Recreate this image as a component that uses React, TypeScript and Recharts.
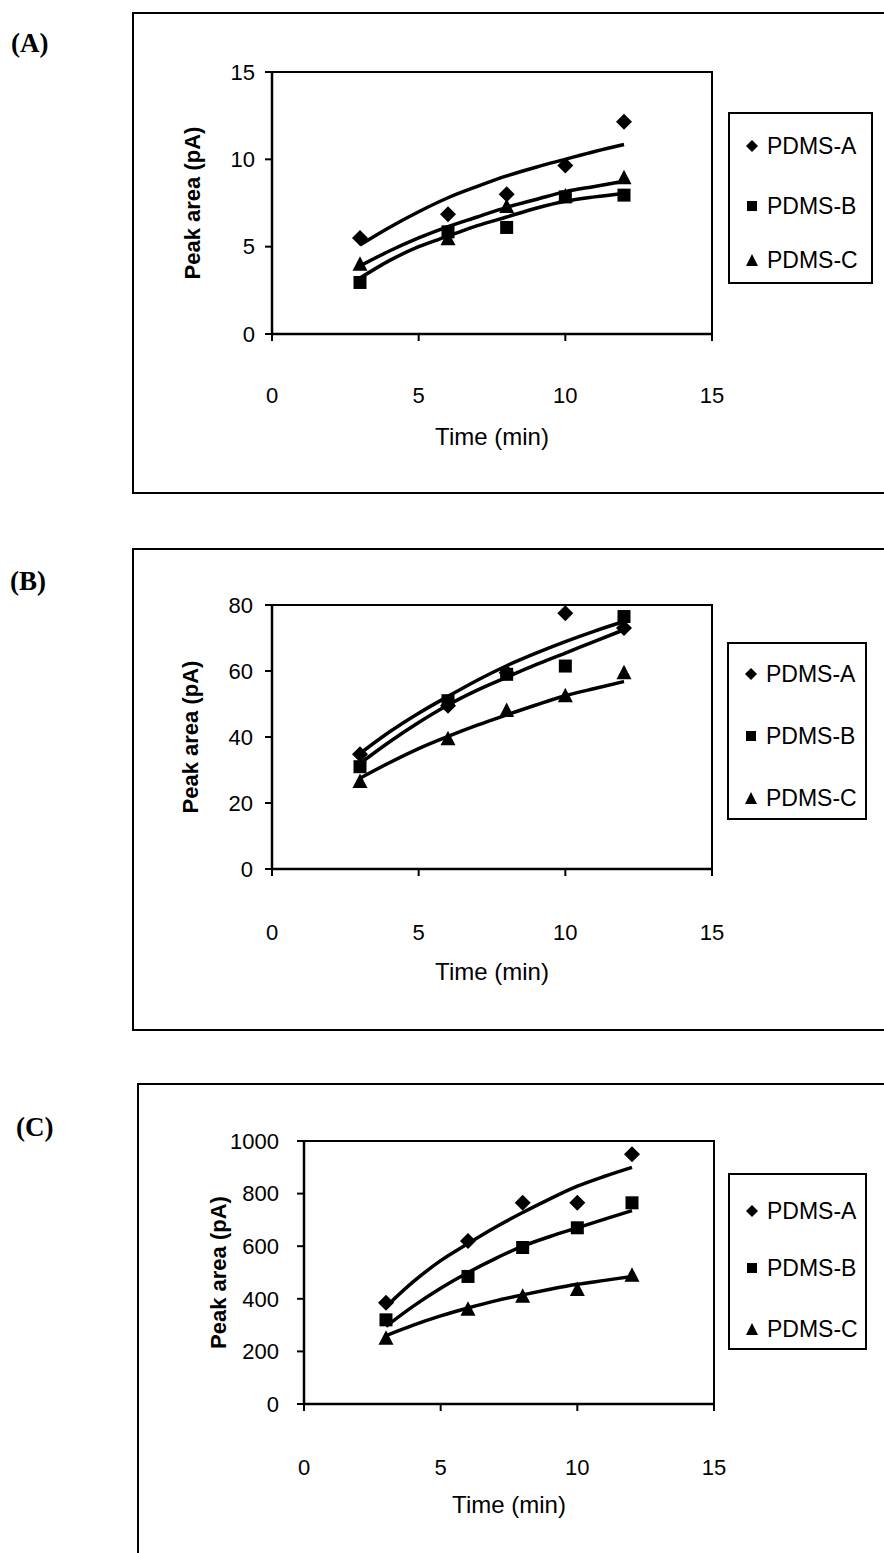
import React from 'react'
import { ComposedChart, Scatter, Line, XAxis, YAxis, ReferenceArea } from 'recharts'

const SANS = '"Liberation Sans", Arial, sans-serif'
const SERIF = '"Liberation Serif", "Times New Roman", serif'

const seriesNames = ['PDMS-A', 'PDMS-B', 'PDMS-C']
const sampleTimes = [3, 6, 8, 10, 12]
const fitTimes = [3, 4, 5, 6, 7, 8, 9, 10, 11, 12]
const xTicks = [0, 5, 10, 15]

// panel (A)
const aTicks = [0, 5, 10, 15]
const aPointsA = [5.5, 6.85, 8.0, 9.65, 12.15]
const aPointsB = [2.95, 5.85, 6.1, 7.85, 7.95]
const aPointsC = [4.0, 5.45, 7.3, 7.9, 8.95]
const aFitA = [5.1, 6.1, 7.0, 7.8, 8.45, 9.05, 9.55, 10.0, 10.45, 10.85]
const aFitB = [3.2, 4.2, 5.0, 5.6, 6.2, 6.7, 7.2, 7.6, 7.85, 8.05]
const aFitC = [3.9, 4.75, 5.5, 6.15, 6.7, 7.25, 7.7, 8.15, 8.45, 8.75]

// panel (B)
const bTicks = [0, 20, 40, 60, 80]
const bPointsA = [34.8, 49.5, 59.5, 77.5, 73]
const bPointsB = [31, 51, 59, 61.5, 76.5]
const bPointsC = [26.5, 39.5, 48, 52.5, 59.5]
const bFitA = [35, 41.5, 47.2, 52.3, 57.2, 61.6, 65.4, 68.9, 72.1, 75]
const bFitB = [32, 38.5, 44.4, 49.7, 54.2, 58.1, 61.9, 65.4, 69, 72.5]
const bFitC = [27.5, 32.2, 36.5, 40.2, 43.6, 46.7, 49.7, 52.5, 54.7, 56.8]

// panel (C)
const cTicks = [0, 200, 400, 600, 800, 1000]
const cPointsA = [385, 620, 765, 765, 950]
const cPointsB = [320, 485, 595, 670, 765]
const cPointsC = [250, 360, 410, 435, 490]
const cFitA = [370, 465, 545, 610, 672, 728, 780, 828, 866, 900]
const cFitB = [295, 372, 440, 500, 553, 600, 637, 670, 703, 735]
const cFitC = [260, 300, 335, 365, 392, 415, 436, 455, 470, 485]

const toPoints = (xs: number[], ys: number[]) => xs.map((x, i) => ({ x, y: ys[i] }))

const Diamond = (p: any) => {
  const r = 8
  return <polygon points={`${p.cx},${p.cy - r} ${p.cx + r},${p.cy} ${p.cx},${p.cy + r} ${p.cx - r},${p.cy}`} fill="#000" />
}
const Square = (p: any) => <rect x={p.cx - 6.5} y={p.cy - 6.5} width={13} height={13} fill="#000" />
const Triangle = (p: any) => (
  <polygon points={`${p.cx},${p.cy - 8} ${p.cx + 7.5},${p.cy + 6.5} ${p.cx - 7.5},${p.cy + 6.5}`} fill="#000" />
)
const shapes = [Diamond, Square, Triangle]

function LegendIcon({ i }: { i: number }) {
  return (
    <svg width={16} height={16} style={{ marginRight: 7 }}>
      {i === 0 && <polygon points="8,2 14,8 8,14 2,8" fill="#000" />}
      {i === 1 && <rect x={3} y={3} width={10} height={10} fill="#000" />}
      {i === 2 && <polygon points="8,2 14,14 2,14" fill="#000" />}
    </svg>
  )
}

function LegendBox({ left, top, width, height, rows }: any) {
  return (
    <div style={{
      position: 'absolute', left, top, width, height, boxSizing: 'border-box',
      border: '2px solid #000', fontFamily: SANS, fontSize: 23,
    }}>
      {seriesNames.map((name, i) => (
        <div key={name} style={{ position: 'absolute', left: 14, top: rows[i] - 14, height: 28, display: 'flex', alignItems: 'center' }}>
          <LegendIcon i={i} />
          <span>{name}</span>
        </div>
      ))}
    </div>
  )
}

function Panel(props: any) {
  const { top, height, margin, yMax, yTicks, points, fits, yLabelOffset, xTickMargin, yTickMargin, titleOffset } = props
  return (
    <div style={{ position: 'absolute', left: 0, top }}>
      <ComposedChart width={884} height={height} margin={margin}>
        <XAxis
          type="number"
          dataKey="x"
          domain={[0, 15]}
          ticks={xTicks}
          allowDataOverflow
          height={120}
          tickSize={7}
          tickMargin={xTickMargin}
          axisLine={{ stroke: '#000', strokeWidth: 2.5 }}
          tickLine={{ stroke: '#000', strokeWidth: 2 }}
          tick={{ fill: '#000', fontSize: 22, fontFamily: SANS }}
          label={{ value: 'Time (min)', position: 'insideBottom', offset: titleOffset, style: { fill: '#000', fontSize: 24, fontFamily: SANS } }}
        />
        <YAxis
          type="number"
          domain={[0, yMax]}
          ticks={yTicks}
          allowDataOverflow
          width={130}
          tickSize={7}
          tickMargin={yTickMargin}
          axisLine={{ stroke: '#000', strokeWidth: 2.5 }}
          tickLine={{ stroke: '#000', strokeWidth: 2 }}
          tick={{ fill: '#000', fontSize: 22, fontFamily: SANS }}
          label={{
            value: 'Peak area (pA)', angle: -90, position: 'insideLeft', offset: yLabelOffset,
            style: { textAnchor: 'middle', fill: '#000', fontSize: 22, fontWeight: 'bold', fontFamily: SANS },
          }}
        />
        <ReferenceArea x1={0} x2={15} y1={0} y2={yMax} fill="none" stroke="#000" strokeWidth={2} ifOverflow="visible" />
        {fits.map((f: number[], i: number) => (
          <Line key={'fit' + i} data={toPoints(fitTimes, f)} dataKey="y" type="monotone" stroke="#000" strokeWidth={3.5} dot={false} isAnimationActive={false} />
        ))}
        {points.map((p: number[], i: number) => (
          <Scatter key={'pt' + i} name={seriesNames[i]} data={toPoints(sampleTimes, p)} dataKey="y" shape={shapes[i]} isAnimationActive={false} />
        ))}
      </ComposedChart>
    </div>
  )
}

const frameLine = '2px solid #000'

export default function App() {
  return (
    <div style={{ position: 'absolute', left: 0, top: 0, width: 884, height: 1553, background: '#fff', overflow: 'hidden' }}>
      {/* outer frames */}
      <div style={{ position: 'absolute', left: 132, top: 12, width: 800, height: 478, borderLeft: frameLine, borderTop: frameLine, borderBottom: frameLine }} />
      <div style={{ position: 'absolute', left: 132, top: 548, width: 800, height: 479, borderLeft: frameLine, borderTop: frameLine, borderBottom: frameLine }} />
      <div style={{ position: 'absolute', left: 137, top: 1083, width: 800, height: 500, borderLeft: frameLine, borderTop: frameLine }} />

      <div style={{ position: 'absolute', left: 11, top: 28, fontFamily: SERIF, fontWeight: 'bold', fontSize: 27 }}>(A)</div>
      <div style={{ position: 'absolute', left: 10, top: 566, fontFamily: SERIF, fontWeight: 'bold', fontSize: 27 }}>(B)</div>
      <div style={{ position: 'absolute', left: 16, top: 1112, fontFamily: SERIF, fontWeight: 'bold', fontSize: 27 }}>(C)</div>

      <Panel
        top={0}
        height={500}
        margin={{ top: 72, right: 172, left: 142, bottom: 46 }}
        yMax={15}
        yTicks={aTicks}
        points={[aPointsA, aPointsB, aPointsC]}
        fits={[aFitA, aFitB, aFitC]}
        yLabelOffset={50}
        xTickMargin={46}
        yTickMargin={10}
        titleOffset={9}
      />
      <Panel
        top={536}
        height={500}
        margin={{ top: 69, right: 172, left: 142, bottom: 47 }}
        yMax={80}
        yTicks={bTicks}
        points={[bPointsA, bPointsB, bPointsC]}
        fits={[bFitA, bFitB, bFitC]}
        yLabelOffset={48}
        xTickMargin={48}
        yTickMargin={12}
        titleOffset={9}
      />
      <Panel
        top={1070}
        height={483}
        margin={{ top: 71, right: 170, left: 174, bottom: 29 }}
        yMax={1000}
        yTicks={cTicks}
        points={[cPointsA, cPointsB, cPointsC]}
        fits={[cFitA, cFitB, cFitC]}
        yLabelOffset={44}
        xTickMargin={48}
        yTickMargin={18}
        titleOffset={11}
      />

      <LegendBox left={728} top={112} width={145} height={172} rows={[32, 92, 146]} />
      <LegendBox left={727} top={642} width={140} height={178} rows={[30, 92, 154]} />
      <LegendBox left={728} top={1173} width={139} height={177} rows={[36, 93, 154]} />
    </div>
  )
}
